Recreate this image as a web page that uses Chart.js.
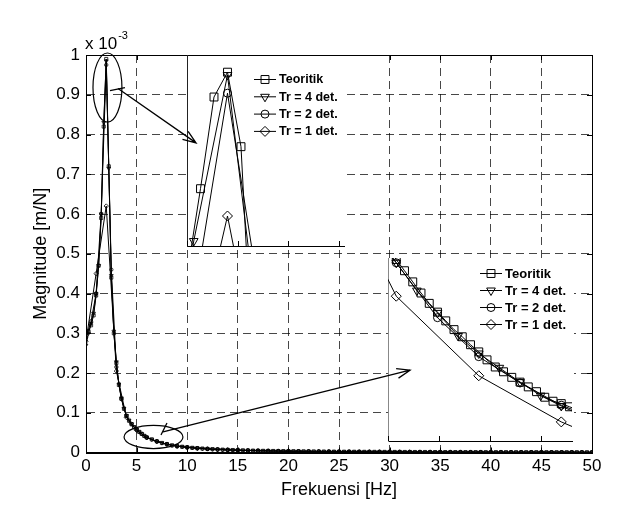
<!DOCTYPE html>
<html>
<head>
<meta charset="utf-8">
<script src="https://cdn.jsdelivr.net/npm/chart.js@4.4.1/dist/chart.umd.min.js"></script>
<style>
  html, body { margin: 0; padding: 0; background: #fff; }
  #wrap { position: relative; width: 620px; height: 520px; }
  #wrap canvas { position: absolute; left: 0; top: 0; }
</style>
</head>
<body>
<div id="wrap">
  <canvas id="main_graph" width="620" height="520"></canvas>
  <canvas id="zoom_peak" width="620" height="520"></canvas>
  <canvas id="zoom_tail" width="620" height="520"></canvas>
</div>
<script>
// ---- data (magnitude in x 10^-3 m/N) ----
const seriesLabels = ["Teoritik", "Tr = 4 det.", "Tr = 2 det.", "Tr = 1 det."];
const xTickLabels = [0, 5, 10, 15, 20, 25, 30, 35, 40, 45, 50];
const yTickLabels = [0, 0.1, 0.2, 0.3, 0.4, 0.5, 0.6, 0.7, 0.8, 0.9, 1];

// main plot, 0 - 6 Hz
const freqHead025 = [0, 0.25, 0.5, 0.75, 1, 1.25, 1.5, 1.75, 2, 2.25, 2.5, 2.75, 3, 3.25, 3.5, 3.75, 4, 4.25, 4.5, 4.75, 5, 5.25, 5.5, 5.75, 6];
const magTeoritikHead = [0.300, 0.305, 0.320, 0.345, 0.395, 0.470, 0.590, 0.820, 0.990, 0.720, 0.440, 0.300, 0.225, 0.170, 0.135, 0.110, 0.092, 0.080, 0.071, 0.064, 0.058, 0.052, 0.047, 0.042, 0.038];
const magTr4Head = [0.270, 0.300, 0.325, 0.350, 0.400, 0.470, 0.600, 0.830, 0.985, 0.715, 0.445, 0.305, 0.228, 0.172, 0.137, 0.111, 0.093, 0.081, 0.072, 0.064, 0.058, 0.052, 0.047, 0.042, 0.038];
const freqHead05 = [0, 0.5, 1, 1.5, 2, 2.5, 3, 3.5, 4, 4.5, 5, 5.5, 6];
const magTr2Head = [0.290, 0.330, 0.400, 0.600, 0.975, 0.460, 0.215, 0.135, 0.092, 0.072, 0.058, 0.047, 0.038];
const freqHead1 = [0, 1, 2, 3, 4, 5, 6];
const magTr1Head = [0.280, 0.450, 0.620, 0.205, 0.088, 0.056, 0.037];

// main plot, tail
const freqTail05 = [6.5, 7, 7.5, 8, 8.5, 9, 9.5, 10, 10.5, 11, 11.5, 12, 12.5, 13, 13.5, 14, 14.5, 15, 15.5, 16, 16.5, 17, 17.5, 18, 18.5, 19, 19.5, 20, 20.5, 21, 21.5, 22, 22.5, 23, 23.5, 24, 24.5, 25, 25.5, 26, 26.5, 27, 27.5, 28, 28.5, 29, 29.5, 30, 30.5, 31, 31.5, 32, 32.5, 33, 33.5, 34, 34.5, 35, 35.5, 36, 36.5, 37, 37.5, 38, 38.5, 39, 39.5, 40, 40.5, 41, 41.5, 42, 42.5, 43, 43.5, 44, 44.5, 45, 45.5, 46, 46.5, 47, 47.5, 48, 48.5, 49, 49.5, 50];
const magTail05 = [0.033, 0.028, 0.024, 0.021, 0.018, 0.016, 0.0145, 0.013,
  0.0118, 0.0108, 0.0099, 0.0091, 0.0084, 0.0077, 0.0072, 0.0067,
  0.0062, 0.0058, 0.0054, 0.0051, 0.0048, 0.0045, 0.0042, 0.0040,
  0.0038, 0.0036, 0.0034, 0.0033, 0.0031, 0.0030, 0.0028, 0.0027,
  0.0026, 0.0025, 0.0024, 0.0023, 0.0022, 0.0021, 0.0020, 0.0020,
  0.0019, 0.0018, 0.0017, 0.0017, 0.0016, 0.0016, 0.0015, 0.0015,
  0.0014, 0.0014, 0.0013, 0.0013, 0.0012, 0.0012, 0.0012, 0.0011,
  0.0011, 0.0011, 0.0010, 0.0010, 0.0010, 0.0010, 0.0009, 0.0009,
  0.0009, 0.0009, 0.0008, 0.0008, 0.0008, 0.0008, 0.0008, 0.0007,
  0.0007, 0.0007, 0.0007, 0.0007, 0.0007, 0.0006, 0.0006, 0.0006,
  0.0006, 0.0006, 0.0006, 0.0006, 0.0006, 0.0005, 0.0005, 0.0005];
const freqTail1 = [7, 8, 9, 10, 11, 12, 13, 14, 15, 16, 17, 18, 19, 20, 21, 22, 23, 24, 25, 26, 27, 28, 29, 30, 31, 32, 33, 34, 35, 36, 37, 38, 39, 40, 41, 42, 43, 44, 45, 46, 47, 48, 49, 50];
const magTail1 = [0.028, 0.021, 0.016, 0.013, 0.0108, 0.0091, 0.0077, 0.0067,
  0.0058, 0.0051, 0.0045, 0.0040, 0.0036, 0.0033, 0.0030, 0.0027,
  0.0025, 0.0023, 0.0021, 0.0020, 0.0018, 0.0017, 0.0016, 0.0015,
  0.0014, 0.0013, 0.0012, 0.0012, 0.0011, 0.0010, 0.0010, 0.0009,
  0.0009, 0.0008, 0.0008, 0.0007, 0.0007, 0.0007, 0.0007, 0.0006,
  0.0006, 0.0006, 0.0005, 0.0005];

// zoom around the peak
const peakFreqTeoritik = [1.6, 1.7, 1.8, 1.9, 2.0, 2.1, 2.2, 2.3];
const peakMagTeoritik = [0.850, 0.885, 0.930, 0.978, 0.991, 0.952, 0.817, 0.750];
const peakFreqTr4 = [1.5, 1.75, 2.0, 2.25];
const peakMagTr4 = [0.800, 0.9026, 0.9895, 0.843];
const peakFreqTr2 = [1.5, 2.0, 2.5];
const peakMagTr2 = [0.764, 0.980, 0.755];
const peakFreqTr1 = [1.0, 2.0, 3.0];
const peakMagTr1 = [0.610, 0.9157, 0.560];
const peakTicks = [1.7, 2.075, 2.45, 2.825];

// zoom around 6 - 8 Hz
const tailFreqTeoritik = [5.9, 6.0, 6.1, 6.2, 6.3, 6.4, 6.5, 6.6, 6.7, 6.8, 6.9, 7.0, 7.1, 7.2, 7.3, 7.4, 7.5, 7.6, 7.7, 7.8, 7.9, 8.0, 8.1, 8.2];
const tailMagTeoritik = [0.0404, 0.0388, 0.0374, 0.0360, 0.0346, 0.0333, 0.0322, 0.0311, 0.0300, 0.0291, 0.0281, 0.0272, 0.0262, 0.0253, 0.0247, 0.0240, 0.0234, 0.0228, 0.0222, 0.0215, 0.0210, 0.0207, 0.0203, 0.0199];
const tailFreqTr4 = [5.75, 6, 6.25, 6.5, 6.75, 7, 7.25, 7.5, 7.75, 8, 8.25];
const tailMagTr4 = [0.0415, 0.0384, 0.0349, 0.0321, 0.0292, 0.0270, 0.0252, 0.0234, 0.0217, 0.0204, 0.0192];
const tailFreqTr2 = [5.5, 6, 6.5, 7, 7.5, 8, 8.5];
const tailMagTr2 = [0.0460, 0.0384, 0.0315, 0.0266, 0.0233, 0.0205, 0.0185];
const tailFreqTr1 = [5, 6, 7, 8, 9];
const tailMagTr1 = [0.0550, 0.0342, 0.0242, 0.0184, 0.0140];
const tailTicks = [5.9, 6.52, 7.14, 7.76];

// ---- look ----
const FONT = "'Liberation Sans', Arial, sans-serif";
Chart.defaults.font.family = FONT;
Chart.defaults.color = '#000';

const markers = [
  {pointStyle: 'rect', pointRotation: 0, big: 5.6, small: 2.2},
  {pointStyle: 'triangle', pointRotation: 180, big: 5, small: 2.2},
  {pointStyle: 'circle', pointRotation: 0, big: 4, small: 1.7},
  {pointStyle: 'rectRot', pointRotation: 0, big: 5, small: 2.2},
];

// annotation geometry (main plot units / zoom units)
const ellipses = [
  {cx: 2.12, cy: 0.918, rx: 1.43, ry: 0.087},
  {cx: 6.67, cy: 0.039, rx: 2.91, ry: 0.029},
];
const arrowPeak = {from: [3.16, 0.9156], to: [1.767, 0.954], mark: [[2.37, 0.9106], [3.85, 0.918]]};
const arrowTail = {from: [7.61, 0.0516], to: [6.167, 0.0249], mark: [[7.41, 0.044], [8.0, 0.0743]]};

function pairs(xs, ys) {
  return xs.map((x, i) => ({x: x, y: ys[i]}));
}

function makeDataset(i, xs, ys, big) {
  const m = markers[i];
  return {
    label: seriesLabels[i],
    data: pairs(xs, ys),
    borderColor: '#000',
    borderWidth: 1,
    pointStyle: m.pointStyle,
    pointRotation: m.pointRotation,
    pointRadius: big ? m.big : m.small,
    pointBorderColor: '#000',
    pointBackgroundColor: 'rgba(0,0,0,0)',
    pointBorderWidth: big ? 1 : 0.8,
    tension: 0,
    fill: false,
    clip: big ? 0 : undefined,
  };
}

function drawMarker(ctx, style, rot, x, y, r) {
  ctx.beginPath();
  if (style === 'rect') {
    const s = r * Math.SQRT1_2;
    ctx.rect(x - s, y - s, 2 * s, 2 * s);
  } else if (style === 'circle') {
    ctx.arc(x, y, r, 0, Math.PI * 2);
  } else if (style === 'rectRot') {
    ctx.moveTo(x - r, y); ctx.lineTo(x, y - r); ctx.lineTo(x + r, y); ctx.lineTo(x, y + r); ctx.closePath();
  } else if (style === 'triangle') {
    let a = rot * Math.PI / 180;
    ctx.moveTo(x + Math.sin(a) * r, y - Math.cos(a) * r);
    a += Math.PI * 2 / 3;
    ctx.lineTo(x + Math.sin(a) * r, y - Math.cos(a) * r);
    a += Math.PI * 2 / 3;
    ctx.lineTo(x + Math.sin(a) * r, y - Math.cos(a) * r);
    ctx.closePath();
  }
  ctx.stroke();
}

function drawArrow(ctx, x0, y0, x1, y1) {
  const ang = Math.atan2(y1 - y0, x1 - x0);
  const len = 14, spread = 0.36;
  ctx.beginPath();
  ctx.moveTo(x0, y0); ctx.lineTo(x1, y1);
  ctx.moveTo(x1 - len * Math.cos(ang - spread), y1 - len * Math.sin(ang - spread));
  ctx.lineTo(x1, y1);
  ctx.lineTo(x1 - len * Math.cos(ang + spread), y1 - len * Math.sin(ang + spread));
  ctx.stroke();
}

// ---- main chart ----
const mainDecor = {
  id: 'mainDecor',
  afterDraw(chart) {
    const {ctx, chartArea: a, scales: {x, y}} = chart;
    ctx.save();
    ctx.strokeStyle = '#000';
    ctx.lineWidth = 1;
    ctx.setLineDash([]);
    ctx.beginPath();
    x.ticks.forEach(t => {
      const px = Math.round(x.getPixelForValue(t.value)) + 0.5;
      ctx.moveTo(px, a.bottom); ctx.lineTo(px, a.bottom - 5);
      ctx.moveTo(px, a.top); ctx.lineTo(px, a.top + 5);
    });
    y.ticks.forEach(t => {
      const py = Math.round(y.getPixelForValue(t.value)) + 0.5;
      ctx.moveTo(a.left, py); ctx.lineTo(a.left + 5, py);
      ctx.moveTo(a.right, py); ctx.lineTo(a.right - 5, py);
    });
    ctx.stroke();
    ctx.strokeRect(Math.round(a.left) + 0.5, Math.round(a.top) + 0.5, Math.round(a.right - a.left), Math.round(a.bottom - a.top));

    ctx.lineWidth = 1.2;
    ellipses.forEach(e => {
      const cx = x.getPixelForValue(e.cx), cy = y.getPixelForValue(e.cy);
      const rx = x.getPixelForValue(e.cx + e.rx) - cx;
      const ry = cy - y.getPixelForValue(e.cy + e.ry);
      ctx.beginPath();
      ctx.ellipse(cx, cy, rx, ry, 0, 0, Math.PI * 2);
      ctx.stroke();
    });

    ctx.fillStyle = '#000';
    ctx.textAlign = 'left';
    ctx.textBaseline = 'alphabetic';
    ctx.font = '17px ' + FONT;
    ctx.fillText('x 10', a.left - 1, a.top - 6);
    const w = ctx.measureText('x 10').width;
    ctx.font = '11px ' + FONT;
    ctx.fillText('-3', a.left - 1 + w + 1, a.top - 16);
    ctx.restore();
  }
};

const mainChart = new Chart(document.getElementById('main_graph'), {
  type: 'line',
  data: {
    datasets: [
      makeDataset(0, freqHead025.concat(freqTail05), magTeoritikHead.concat(magTail05), false),
      makeDataset(1, freqHead025.concat(freqTail05), magTr4Head.concat(magTail05), false),
      makeDataset(2, freqHead05.concat(freqTail1), magTr2Head.concat(magTail1), false),
      makeDataset(3, freqHead1.concat(freqTail1), magTr1Head.concat(magTail1), false),
    ]
  },
  options: {
    responsive: false,
    animation: false,
    events: [],
    layout: {padding: {left: 0, right: 28, top: 55, bottom: 0}},
    plugins: {legend: {display: false}, tooltip: {enabled: false}},
    scales: {
      x: {
        type: 'linear', min: 0, max: 50,
        afterBuildTicks: s => { s.ticks = xTickLabels.map(v => ({value: v})); },
        ticks: {font: {size: 17}, padding: 4, maxRotation: 0, autoSkip: false, callback: v => String(v)},
        grid: {color: 'rgba(0,0,0,0.72)', lineWidth: 1, drawTicks: false},
        border: {display: true, color: '#000', width: 1, dash: [8, 5]},
        title: {display: true, text: 'Frekuensi [Hz]', font: {size: 18}, padding: {top: 0, bottom: 19}},
        afterFit: s => { s.height = 67.5; }
      },
      y: {
        type: 'linear', min: 0, max: 1,
        afterBuildTicks: s => { s.ticks = yTickLabels.map(v => ({value: v})); },
        ticks: {font: {size: 17}, padding: 6, callback: v => String(Number(v.toFixed(1)))},
        grid: {color: 'rgba(0,0,0,0.72)', lineWidth: 1, drawTicks: false},
        border: {display: true, color: '#000', width: 1, dash: [8, 5]},
        title: {display: true, text: 'Magnitude [m/N]', font: {size: 18}, padding: {top: 30, bottom: 0}},
        afterFit: s => { s.width = 86; }
      }
    }
  },
  plugins: [mainDecor]
});

// ---- zoom charts ----
function insetDecor(ticks, legend) {
  return {
    id: 'insetDecor',
    beforeDraw(chart) {
      const {ctx, chartArea: a} = chart;
      ctx.save();
      ctx.fillStyle = '#fff';
      ctx.fillRect(a.left, a.top + 1, a.right - a.left + 2, a.bottom - a.top - 1);
      ctx.restore();
    },
    afterDraw(chart) {
      const {ctx, chartArea: a, scales: {x}} = chart;
      ctx.save();
      ctx.strokeStyle = '#000';
      ctx.lineWidth = 1;
      ctx.beginPath();
      ticks.forEach(v => {
        const px = Math.round(x.getPixelForValue(v)) + 0.5;
        ctx.moveTo(px, a.bottom); ctx.lineTo(px, a.bottom - 5);
      });
      ctx.stroke();
      ctx.font = 'bold ' + legend.size + 'px ' + FONT;
      ctx.textAlign = 'left';
      ctx.textBaseline = 'middle';
      ctx.fillStyle = '#000';
      chart.data.datasets.forEach((ds, i) => {
        const ly = legend.top + i * legend.gap;
        ctx.beginPath();
        ctx.moveTo(legend.x - 11, ly); ctx.lineTo(legend.x + 11, ly);
        ctx.stroke();
        drawMarker(ctx, ds.pointStyle, ds.pointRotation, legend.x, ly, ds.pointRadius);
        ctx.fillText(ds.label, legend.x + 14, ly + 0.5);
      });
      ctx.restore();
    }
  };
}

function insetOptions(box, xMin, xMax, yMin, yMax, ticks, leftColor) {
  return {
    responsive: false,
    animation: false,
    events: [],
    layout: {padding: {left: box.left, right: 620 - box.right, top: box.top, bottom: 520 - box.bottom}},
    plugins: {legend: {display: false}, tooltip: {enabled: false}},
    scales: {
      x: {
        type: 'linear', min: xMin, max: xMax,
        ticks: {display: false}, grid: {display: false, drawTicks: false},
        border: {display: true, color: '#000', width: 1},
        afterBuildTicks: s => { s.ticks = ticks.map(v => ({value: v})); },
        afterFit: s => { s.height = 0; }
      },
      y: {
        type: 'linear', min: yMin, max: yMax,
        ticks: {display: false}, grid: {display: false, drawTicks: false},
        border: {display: true, color: leftColor, width: 1},
        afterFit: s => { s.width = 0; }
      }
    }
  };
}

const peakChart = new Chart(document.getElementById('zoom_peak'), {
  type: 'line',
  data: {
    datasets: [
      makeDataset(0, peakFreqTeoritik, peakMagTeoritik, true),
      makeDataset(1, peakFreqTr4, peakMagTr4, true),
      makeDataset(2, peakFreqTr2, peakMagTr2, true),
      makeDataset(3, peakFreqTr1, peakMagTr1, true),
    ]
  },
  options: insetOptions({left: 187, right: 344, top: 55, bottom: 246}, 1.7, 2.863, 0.9, 1.0, peakTicks, '#222'),
  plugins: [insetDecor(peakTicks, {x: 265, top: 79.5, gap: 17.3, size: 12.5})]
});

const arrowDecor = {
  id: 'arrowDecor',
  afterDraw(chart) {
    const ctx = chart.ctx;
    const mx = mainChart.scales.x, my = mainChart.scales.y;
    const px = peakChart.scales.x, py = peakChart.scales.y;
    const tx = chart.scales.x, ty = chart.scales.y;
    ctx.save();
    ctx.strokeStyle = '#000';
    ctx.lineWidth = 1.3;
    [[arrowPeak, px, py], [arrowTail, tx, ty]].forEach(([ar, sx, sy]) => {
      ctx.beginPath();
      ctx.moveTo(mx.getPixelForValue(ar.mark[0][0]), my.getPixelForValue(ar.mark[0][1]));
      ctx.lineTo(mx.getPixelForValue(ar.mark[1][0]), my.getPixelForValue(ar.mark[1][1]));
      ctx.stroke();
      drawArrow(ctx,
        mx.getPixelForValue(ar.from[0]), my.getPixelForValue(ar.from[1]),
        sx.getPixelForValue(ar.to[0]), sy.getPixelForValue(ar.to[1]));
    });
    ctx.restore();
  }
};

const tailChart = new Chart(document.getElementById('zoom_tail'), {
  type: 'line',
  data: {
    datasets: [
      makeDataset(0, tailFreqTeoritik, tailMagTeoritik, true),
      makeDataset(1, tailFreqTr4, tailMagTr4, true),
      makeDataset(2, tailFreqTr2, tailMagTr2, true),
      makeDataset(3, tailFreqTr1, tailMagTr1, true),
    ]
  },
  options: insetOptions({left: 388, right: 572, top: 258, bottom: 441}, 5.9, 8.13, 0.016, 0.039, tailTicks, '#888'),
  plugins: [insetDecor(tailTicks, {x: 491, top: 273.5, gap: 17, size: 13}), arrowDecor]
});
</script>
</body>
</html>
